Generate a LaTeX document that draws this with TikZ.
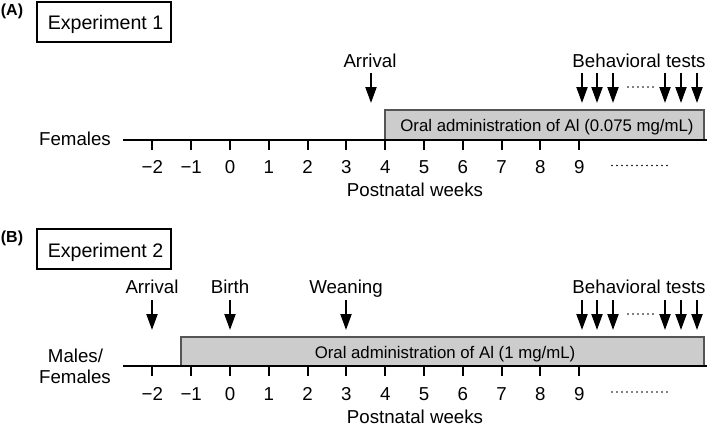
\documentclass[tikz,border=0pt]{standalone}
\usepackage{fontspec}
\setmainfont{Liberation Sans}
\usetikzlibrary{arrows.meta}
\definecolor{boxfill}{RGB}{204,204,204}
\definecolor{boxline}{RGB}{85,85,85}
\begin{document}
\begin{tikzpicture}[x=1pt,y=-1pt,
  lbl/.style={anchor=base,inner sep=0pt,font=\fontsize{18.7}{22}\selectfont},
  explbl/.style={anchor=base,inner sep=0pt,font=\fontsize{19.6}{23}\selectfont},
  small/.style={anchor=base,inner sep=0pt,font=\fontsize{16.8}{20}\selectfont},
  panel/.style={anchor=base,inner sep=0pt,font=\fontsize{16}{19}\selectfont\bfseries},
  expbox/.style={draw,line width=2pt},
  axisline/.style={line width=2pt},
  tickmark/.style={line width=2pt},
  arr/.style={line width=2pt,-{Triangle[width=11pt,length=16pt]}},
  admin/.style={fill=boxfill,draw=boxline,line width=1.4pt},
  dotrow/.style={line width=1.8pt,line cap=round,dash pattern=on 0pt off 5pt}
]
\useasboundingbox (0,0) rectangle (709,429);

% ---------------- Panel A ----------------
\node[panel] (pA) at (12,15) {(A)};
\draw[expbox] (37,2) rectangle (171,42);
\node[explbl] (exp1) at (105.5,29) {Experiment 1};

\draw[admin] (385,110) rectangle (704,140);
\node[small] (oralA) at (547,131.5) {Oral administration of Al (0.075 mg/mL)};

\node[lbl] (femA) at (75,145.7) {Females};
\coordinate (axAs) at (123,140);
\coordinate (axAe) at (707,140);
\draw[axisline] (axAs) -- (axAe);
\foreach \w/\t in {-2/−2,-1/−1,0/0,1/1,2/2,3/3,4/4,5/5,6/6,7/7,8/8,9/9}{
  \draw[tickmark] ({230+38.8*\w},140) -- ({230+38.8*\w},150);
  \node[lbl] (tA\w) at ({230+38.8*\w},173) {\t};
}
\draw[dotrow] (612,165.5) -- (668,165.5);
\node[lbl] (pwA) at (415,196) {Postnatal weeks};

\node[lbl] (arrA) at (370,67) {Arrival};
\coordinate (arrAs) at (371,73);
\coordinate (arrAe) at (371,103);
\draw[arr] (arrAs) -- (arrAe);

\node[lbl] (btA) at (639,67) {Behavioral tests};
\foreach \x in {582,597,613,665,681,697}{
  \draw[arr] (\x,73) -- (\x,103);
}
\draw[dotrow] (628,87) -- (653,87);

% ---------------- Panel B ----------------
\node[panel] (pB) at (12,242) {(B)};
\draw[expbox] (37,229) rectangle (171,269);
\node[explbl] (exp2) at (105.5,257) {Experiment 2};

\draw[admin] (181,337) rectangle (704,366);
\node[small] (oralB) at (445,358) {Oral administration of Al (1 mg/mL)};

\node[lbl] (malB) at (75.5,362) {Males/};
\node[lbl] (femB) at (75,383) {Females};
\coordinate (axBs) at (123,366);
\coordinate (axBe) at (707,366);
\draw[axisline] (axBs) -- (axBe);
\foreach \w/\t in {-2/−2,-1/−1,0/0,1/1,2/2,3/3,4/4,5/5,6/6,7/7,8/8,9/9}{
  \draw[tickmark] ({230+38.8*\w},366) -- ({230+38.8*\w},376);
  \node[lbl] (tB\w) at ({230+38.8*\w},400) {\t};
}
\draw[dotrow] (612,392) -- (668,392);
\node[lbl] (pwB) at (415,423) {Postnatal weeks};

\node[lbl] (arrB) at (152,293) {Arrival};
\node[lbl] (birth) at (230,293) {Birth};
\node[lbl] (wean) at (346,293) {Weaning};
\foreach \x in {152,230,346}{
  \draw[arr] (\x,300) -- (\x,330);
}
\node[lbl] (btB) at (639,293) {Behavioral tests};
\foreach \x in {582,597,613,665,681,697}{
  \draw[arr] (\x,300) -- (\x,330);
}
\draw[dotrow] (628,314) -- (653,314);
\end{tikzpicture}
\end{document}
